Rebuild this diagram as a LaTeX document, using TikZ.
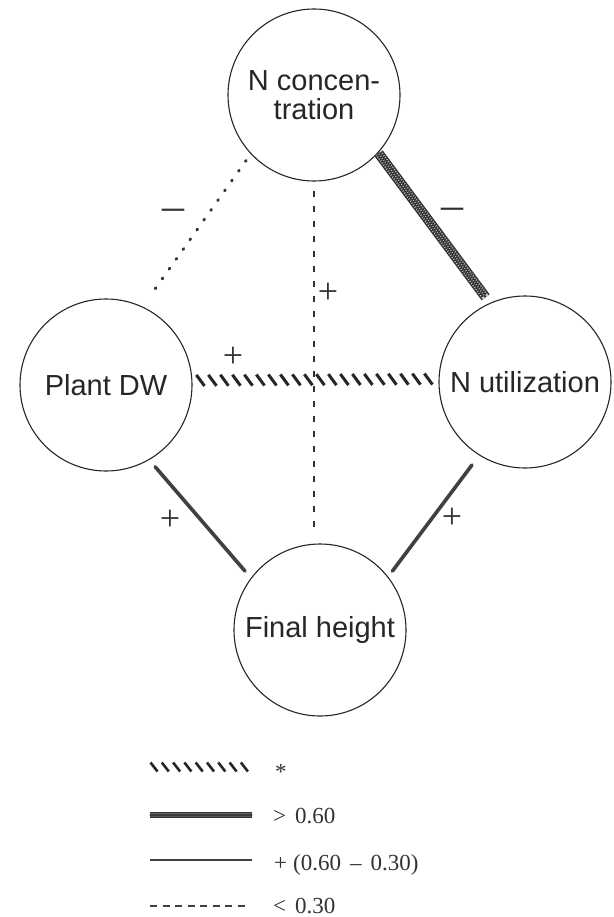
\documentclass[tikz,border=0pt]{standalone}
\usepackage{fontspec}
\setmainfont{Liberation Serif}
\newfontfamily\varfont{Liberation Sans}
\usetikzlibrary{calc,decorations.markings,decorations.pathmorphing}

\tikzset{
  var/.style={draw=black!85, circle, line width=1.1pt, minimum size=172pt, inner sep=0pt,
    font=\varfont\fontsize{29}{29}\selectfont, text=black!85, align=center},
  plussign/.style={font=\fontsize{36}{36}\selectfont, text=black!80, inner sep=0pt},
  minussign/.style={font=\fontsize{44}{44}\selectfont, text=black!80, inner sep=0pt},
  legtext/.style={font=\fontsize{23}{23}\selectfont, text=black!80, anchor=base west, inner sep=0pt},
  % r < 0.30
  weakdots/.style={draw=black!80, line width=3pt, line cap=round, dash pattern=on 1pt off 11pt},
  weakdash/.style={draw=black!80, line width=2pt, dash pattern=on 6pt off 9pt},
  weaklegend/.style={draw=black!75, line width=1.5pt, dash pattern=on 7pt off 5.5pt},
  % r between 0.30 and 0.60
  midlink/.style={draw=black!75, line width=3.6pt, line cap=round},
  midlegend/.style={draw=black!75, line width=2.8pt},
  % r > 0.60: cross-hatched band
  crosslink/.style={draw=black!80, line width=10pt,
    postaction={draw=black!20, line width=7pt},
    postaction={decorate, draw=black!80, line width=1.1pt,
      decoration={zigzag, segment length=5pt, amplitude=3pt}},
    postaction={decorate, draw=black!80, line width=1.1pt,
      decoration={zigzag, mirror, segment length=5pt, amplitude=3pt}}},
  crosslegend/.style={draw=black!80, line width=6pt,
    postaction={draw=black!25, line width=3.6pt},
    postaction={decorate, draw=black!80, line width=0.9pt,
      decoration={zigzag, segment length=4pt, amplitude=1.6pt}},
    postaction={decorate, draw=black!80, line width=0.9pt,
      decoration={zigzag, mirror, segment length=4pt, amplitude=1.6pt}}},
  % significant: row of slanted strokes
  hatchlink/.style={decorate, decoration={markings,
    mark=between positions 8pt and -8pt step 12pt with
      {\draw[black!85, line width=3pt] (-4pt,5.5pt) -- (4pt,-5.5pt);}}},
  hatchlegend/.style={decorate, decoration={markings,
    mark=between positions 4pt and -4pt step 11.3pt with
      {\draw[black!85, line width=2.6pt] (-3.5pt,4.5pt) -- (3.5pt,-4.5pt);}}},
}

\begin{document}
\begin{tikzpicture}[x=1pt,y=-1pt]
\useasboundingbox (0,0) rectangle (613,917);
\fill[white] (0,0) rectangle (613,917);

% variables
\node[var] (nc)  at (314,95)  {N concen-\\tration};
\node[var] (pdw) at (106,385) {Plant DW};
\node[var] (nu)  at (525,382) {N utilization};
\node[var] (fh)  at (320,630) {Final height};

% correlations
\draw[weakdots] ($(nc.223)!8pt!(pdw.65)$) -- ($(pdw.65)!13pt!(nc.223)$);
\coordinate (vb) at (nc.south |- fh.north);
\draw[weakdash] ($(nc.south)!9pt!(vb)$) -- ($(vb)!16pt!(nc.south)$);
\path[crosslink] ($(nc.318)!0.5pt!(nu.114)$) -- ($(nu.114)!7pt!(nc.318)$);
\path[hatchlink] (pdw.3) -- (nu.178);
\draw[midlink] ($(pdw.-60)!9pt!(fh.143)$) -- ($(fh.143)!9pt!(pdw.-60)$);
\draw[midlink] ($(nu.238)!12pt!(fh.38)$) -- ($(fh.38)!7pt!(nu.238)$);

% signs
\node[minussign] (m1) at (173,215) {–};
\node[minussign] (m2) at (452,214) {–};
\node[plussign] (p1) at (328,293) {+};
\node[plussign] (p2) at (233,357) {+};
\node[plussign] (p3) at (170,520) {+};
\node[plussign] (p4) at (452,518) {+};

% legend
\coordinate (l1a) at (150,767); \coordinate (l1b) at (252,767);
\coordinate (l2a) at (150,815); \coordinate (l2b) at (252,815);
\coordinate (l3a) at (150,860); \coordinate (l3b) at (252,860);
\coordinate (l4a) at (150,906); \coordinate (l4b) at (246,906);
\path[hatchlegend] (l1a) -- (l1b);
\path[crosslegend] (l2a) -- (l2b);
\draw[midlegend] (l3a) -- (l3b);
\draw[weaklegend] (l4a) -- (l4b);
\node[legtext] (t1) at (275,779) {*};
\node[legtext] (t2) at (273,823) {>\hspace{9pt}0.60};
\node[legtext] (t3) at (274,870) {+\hspace{6pt}(0.60\hspace{9pt}–\hspace{9pt}0.30)};
\node[legtext] (t4) at (273,913) {<\hspace{9pt}0.30};
\end{tikzpicture}
\end{document}
